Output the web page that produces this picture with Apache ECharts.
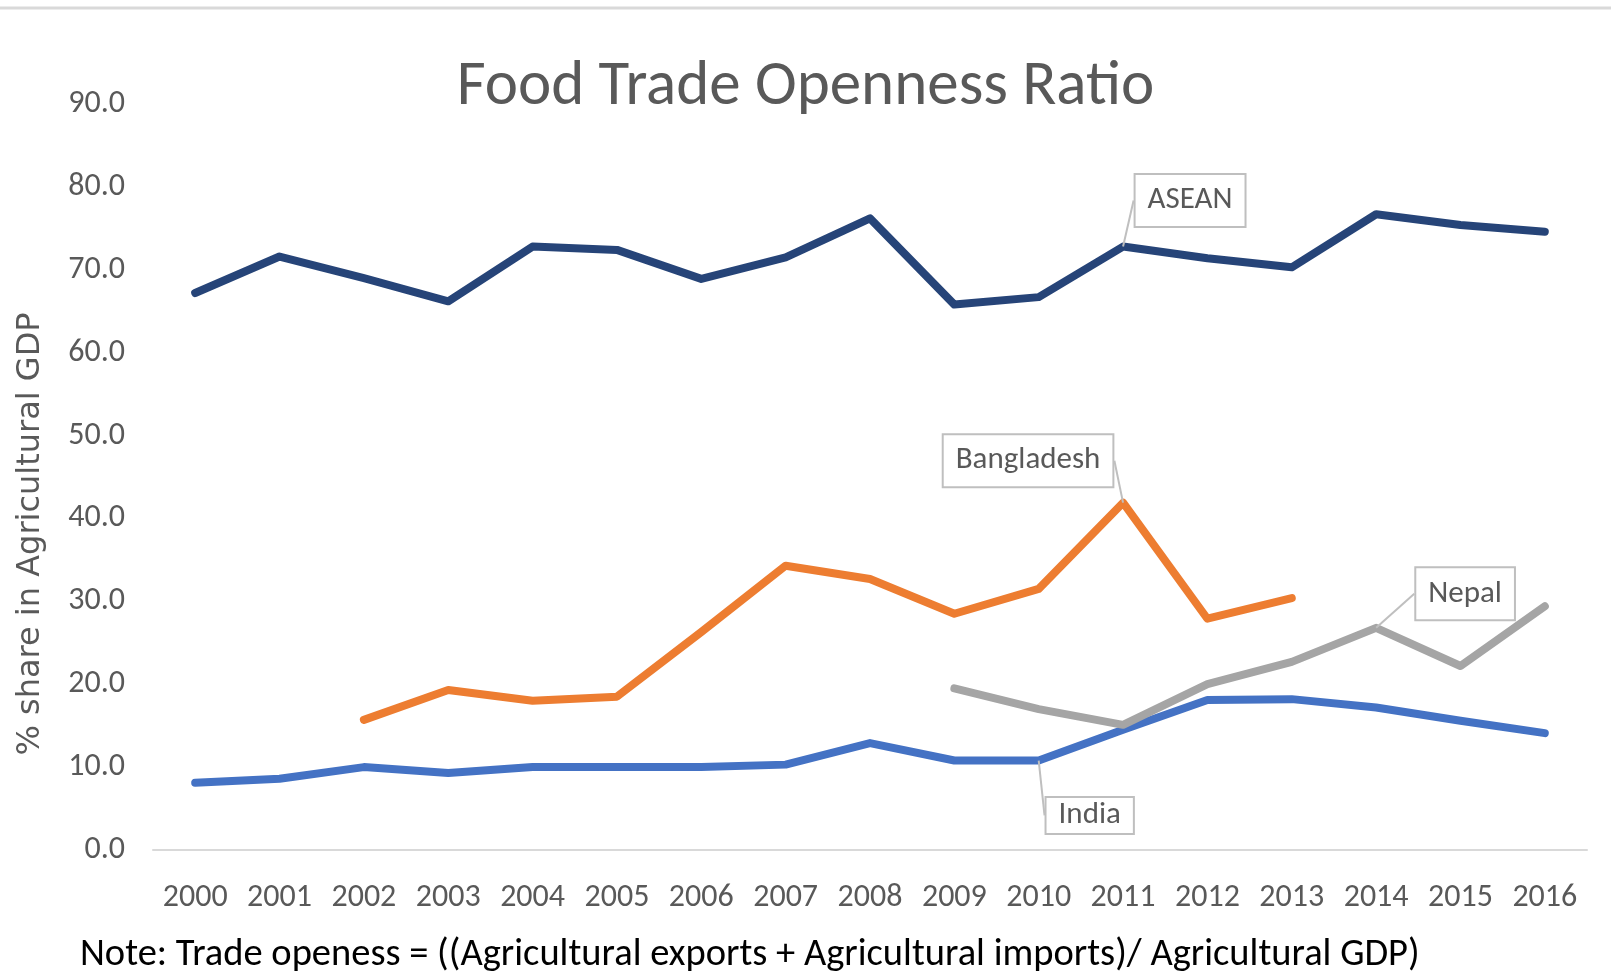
<!DOCTYPE html>
<html>
<head>
<meta charset="utf-8">
<title>Food Trade Openness Ratio</title>
<script src="https://cdn.jsdelivr.net/npm/echarts@6/dist/echarts.min.js"></script>
<style>
  html, body { margin: 0; padding: 0; background: #ffffff; }
  #chart { width: 1611px; height: 980px; }
</style>
</head>
<body>
<div id="chart"></div>
<script>
// Years on the category axis
const years = ['2000','2001','2002','2003','2004','2005','2006','2007','2008',
               '2009','2010','2011','2012','2013','2014','2015','2016'];

// Trade openness (% share in agricultural GDP); null where no data
const asean = [67.2, 71.6, 69.0, 66.2, 72.8, 72.4, 68.9, 71.5, 76.2,
               65.8, 66.7, 72.8, 71.4, 70.3, 76.7, 75.4, 74.6];
const bangladesh = [null, null, 15.7, 19.3, 18.0, 18.5, 26.3, 34.3, 32.7,
                    28.5, 31.5, 41.9, 27.9, 30.4, null, null, null];
const india = [8.1, 8.6, 10.0, 9.3, 10.0, 10.0, 10.0, 10.3, 12.9,
               10.8, 10.8, 14.5, 18.1, 18.2, 17.2, 15.6, 14.1];
const nepal = [null, null, null, null, null, null, null, null, null,
               19.5, 17.0, 15.1, 20.0, 22.7, 26.8, 22.2, 29.4];

// Y axis range and step
const yMin = 0, yMax = 90, yStep = 10;

const titleText = 'Food Trade Openness Ratio';
const yAxisTitle = '% share in Agricultural GDP';
const noteText = 'Note: Trade openess = ((Agricultural exports + Agricultural imports)/ Agricultural GDP)';

const baseFont = "Carlito, 'Liberation Sans Narrow', 'Open Sans', sans-serif";

// Callout placement for each series: which year carries the label, offset of the box, box padding
const callouts = {
  'ASEAN':      { year: '2011', dx: 67,  dy: -46, pad: [11, 12, 9, 12] },
  'Bangladesh': { year: '2011', dx: -95, dy: -42, pad: [11, 12, 9, 12] },
  'Nepal':      { year: '2014', dx: 89,  dy: -34, pad: [11, 12, 9, 12] },
  'India':      { year: '2010', dx: 51,  dy: 55,  pad: [4, 12, 0, 12] }
};

function buildData(name, values) {
  const c = callouts[name];
  return values.map(function (v, i) {
    if (years[i] === c.year) {
      return {
        value: v,
        label: {
          show: true,
          position: 'inside',
          formatter: name,
          fontFamily: baseFont,
          fontSize: 31,
          color: '#595959',
          backgroundColor: '#ffffff',
          borderColor: '#bfbfbf',
          borderWidth: 2,
          padding: c.pad
        }
      };
    }
    return v;
  });
}

function lineSeries(name, values, color) {
  const c = callouts[name];
  return {
    name: name,
    type: 'line',
    data: buildData(name, values),
    showSymbol: true,
    symbol: 'circle',
    symbolSize: 0.1,
    connectNulls: false,
    lineStyle: { color: color, width: 8, cap: 'round', join: 'round' },
    itemStyle: { color: color },
    label: { show: false },
    labelLine: { show: true, lineStyle: { color: '#bfbfbf', width: 2 } },
    labelLayout: function () { return { dx: c.dx, dy: c.dy }; },
    emphasis: { disabled: true },
    silent: true,
    z: 2
  };
}

const chart = echarts.init(document.getElementById('chart'), null, { renderer: 'canvas' });

chart.setOption({
  backgroundColor: '#ffffff',
  animation: false,
  title: {
    text: titleText,
    left: 'center',
    top: 52,
    textStyle: {
      fontFamily: baseFont,
      fontSize: 63,
      fontWeight: 'normal',
      color: '#595959'
    }
  },
  graphic: [
    {
      type: 'line',
      shape: { x1: 0, y1: 8, x2: 1611, y2: 8 },
      style: { stroke: '#d9d9d9', lineWidth: 3 },
      silent: true
    },
    {
      type: 'text',
      x: 31,
      y: 534,
      rotation: Math.PI / 2,
      style: {
        text: yAxisTitle,
        fontFamily: "'DejaVu Sans', Verdana, sans-serif",
        fontSize: 32,
        fill: '#595959',
        align: 'center',
        verticalAlign: 'middle'
      },
      silent: true
    },
    {
      type: 'text',
      left: 80,
      top: 936,
      style: {
        text: noteText,
        fontFamily: baseFont,
        fontSize: 38.5,
        fill: '#000000'
      },
      silent: true
    }
  ],
  grid: { left: 153, right: 24, top: 104, bottom: 130, containLabel: false },
  xAxis: {
    type: 'category',
    data: years,
    boundaryGap: true,
    axisLine: { show: true, lineStyle: { color: '#d9d9d9', width: 2 } },
    axisTick: { show: false },
    axisLabel: {
      margin: 32,
      fontFamily: baseFont,
      fontSize: 32,
      color: '#595959'
    }
  },
  yAxis: {
    type: 'value',
    min: yMin,
    max: yMax,
    interval: yStep,
    axisLine: { show: false },
    axisTick: { show: false },
    splitLine: { show: false },
    axisLabel: {
      margin: 28,
      fontFamily: baseFont,
      fontSize: 32,
      color: '#595959',
      formatter: function (v) { return v.toFixed(1); }
    }
  },
  series: [
    lineSeries('ASEAN', asean, '#264478'),
    lineSeries('Bangladesh', bangladesh, '#ED7D31'),
    lineSeries('India', india, '#4472C4'),
    lineSeries('Nepal', nepal, '#A5A5A5')
  ]
});
</script>
</body>
</html>
